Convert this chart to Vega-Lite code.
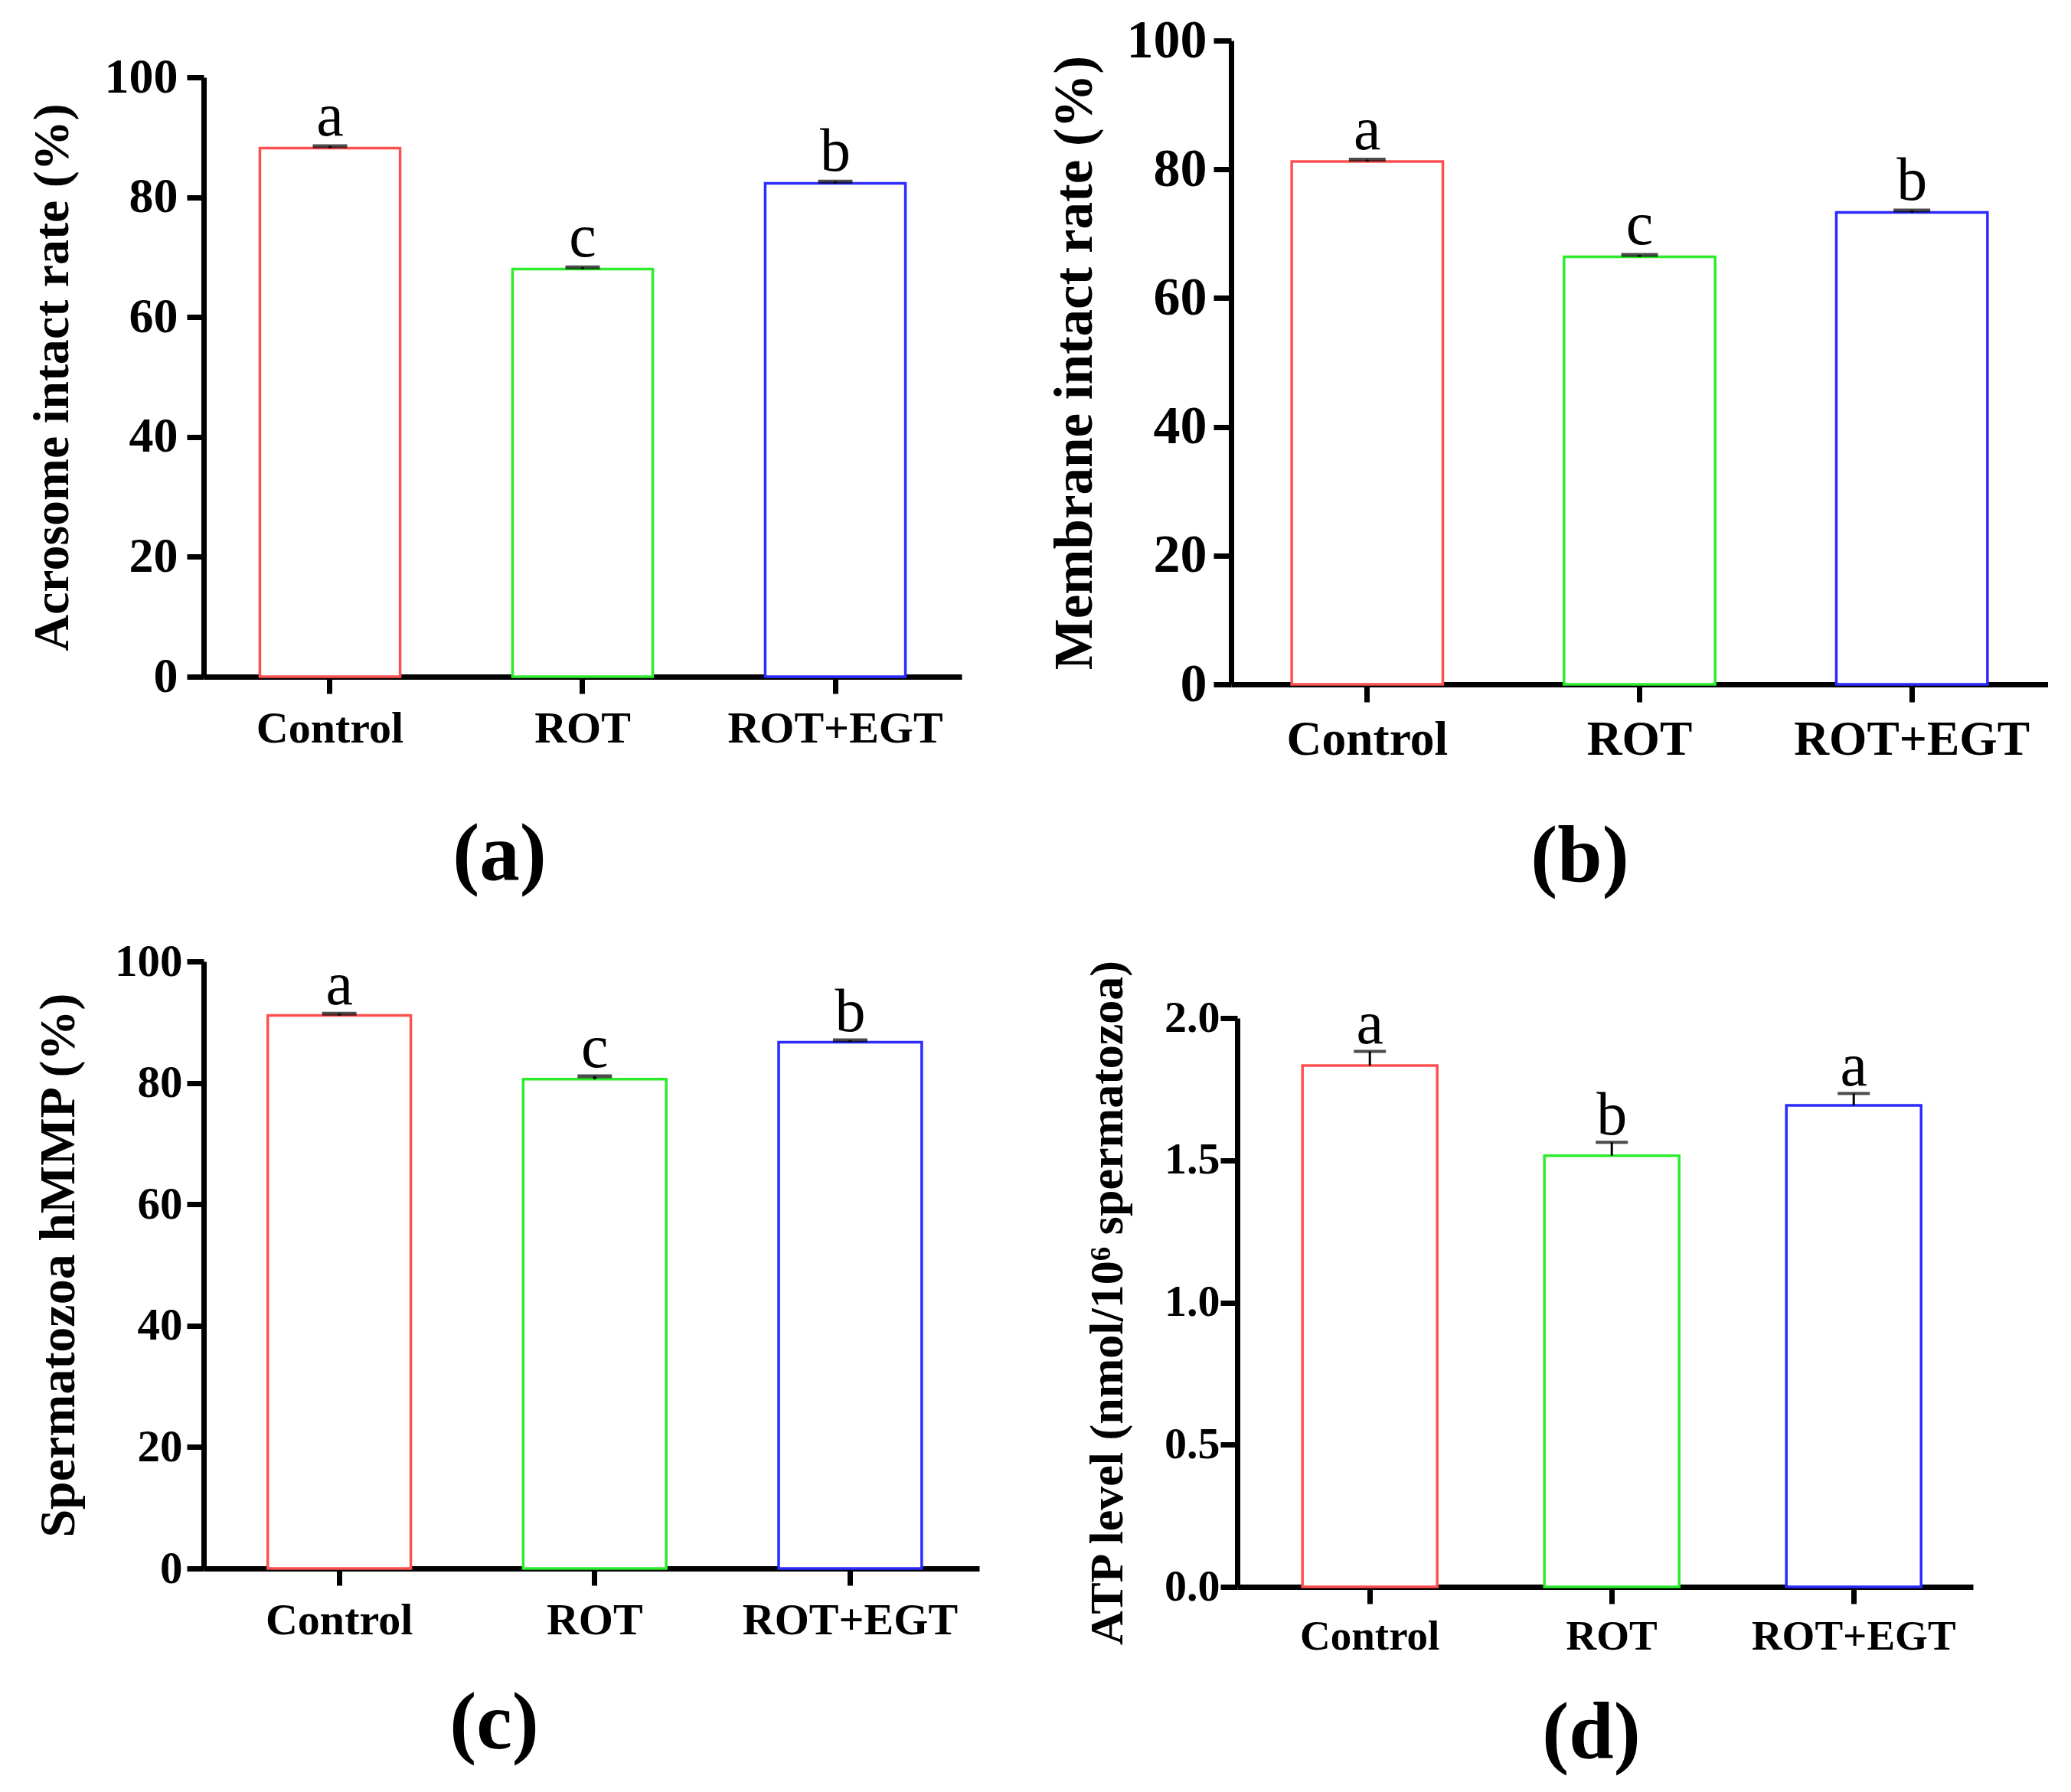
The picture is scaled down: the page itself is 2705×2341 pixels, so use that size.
{
  "$schema": "https://vega.github.io/schema/vega-lite/v6.json",
  "padding": {"left": 34, "top": 18, "right": 0, "bottom": 12},
  "background": "white",
  "datasets": {
    "bars": [
      {"panel": "a", "group": "Control", "mean": 88.2, "upper": 88.5, "letter": "a"},
      {"panel": "a", "group": "ROT", "mean": 68.0, "upper": 68.3, "letter": "c"},
      {"panel": "a", "group": "ROT+EGT", "mean": 82.3, "upper": 82.6, "letter": "b"},
      {"panel": "b", "group": "Control", "mean": 81.2, "upper": 81.5, "letter": "a"},
      {"panel": "b", "group": "ROT", "mean": 66.4, "upper": 66.7, "letter": "c"},
      {"panel": "b", "group": "ROT+EGT", "mean": 73.3, "upper": 73.6, "letter": "b"},
      {"panel": "c", "group": "Control", "mean": 91.1, "upper": 91.4, "letter": "a"},
      {"panel": "c", "group": "ROT", "mean": 80.6, "upper": 81.1, "letter": "c"},
      {"panel": "c", "group": "ROT+EGT", "mean": 86.7, "upper": 87.0, "letter": "b"},
      {"panel": "d", "group": "Control", "mean": 1.833, "upper": 1.883, "letter": "a"},
      {"panel": "d", "group": "ROT", "mean": 1.516, "upper": 1.563, "letter": "b"},
      {"panel": "d", "group": "ROT+EGT", "mean": 1.693, "upper": 1.735, "letter": "a"}
    ]
  },
  "data": {"name": "bars"},
  "spacing": 55,
  "vconcat": [
    {
      "bounds": "flush",
      "spacing": 352,
      "hconcat": [
        {
          "width": 990,
          "height": 831,
          "transform": [{"filter": "datum.panel == 'a'"}],
          "encoding": {
            "x": {
              "field": "group", "type": "nominal", "sort": null,
              "scale": {"paddingInner": 0.445, "paddingOuter": 0.2225},
              "axis": {"title": "(a)", "titleFontSize": 105, "titleX": 386, "titleY": 232, "titleBaseline": "middle", "labelFontSize": 58, "labelPadding": 17, "tickSize": 22}
            }
          },
          "layer": [
            {
              "mark": {"type": "bar", "fill": "white", "strokeWidth": 3.5},
              "encoding": {
                "y": {
                  "field": "mean", "type": "quantitative",
                  "scale": {"domain": [0, 100], "range": [831, 48]},
                  "axis": {"title": "Acrosome intact rate (%)", "values": [0, 20, 40, 60, 80, 100], "titleFontSize": 66, "titleX": -198, "titleY": 439.5, "titleBaseline": "middle", "labelFontSize": 64, "labelPadding": 12, "tickSize": 22}
                },
                "stroke": {"field": "group", "type": "nominal", "scale": {"domain": ["Control", "ROT", "ROT+EGT"], "range": ["#ff5050", "#2cec2c", "#2b2bff"]}, "legend": null}
              }
            },
            {"mark": {"type": "rule", "color": "black", "strokeWidth": 4}, "encoding": {"y": {"field": "mean", "type": "quantitative"}, "y2": {"field": "upper"}}},
            {"mark": {"type": "tick", "orient": "horizontal", "color": "black", "thickness": 5, "size": 45}, "encoding": {"y": {"field": "upper", "type": "quantitative"}}},
            {"mark": {"type": "text", "font": "Liberation Serif", "fontSize": 80, "baseline": "alphabetic", "dy": -14, "color": "black"}, "encoding": {"y": {"field": "upper", "type": "quantitative"}, "text": {"field": "letter"}}}
          ]
        },
        {
          "width": 1067,
          "height": 841,
          "transform": [{"filter": "datum.panel == 'b'"}],
          "encoding": {
            "x": {
              "field": "group", "type": "nominal", "sort": null,
              "scale": {"paddingInner": 0.445, "paddingOuter": 0.2225},
              "axis": {"title": "(b)", "titleFontSize": 105, "titleX": 455, "titleY": 225, "titleBaseline": "middle", "labelFontSize": 63.5, "labelPadding": 18, "tickSize": 23}
            }
          },
          "layer": [
            {
              "mark": {"type": "bar", "fill": "white", "strokeWidth": 3.5},
              "encoding": {
                "y": {
                  "field": "mean", "type": "quantitative",
                  "scale": {"domain": [0, 100]},
                  "axis": {"title": "Membrane intact rate (%)", "values": [0, 20, 40, 60, 80, 100], "titleFontSize": 71, "titleX": -204, "titleY": 420.5, "titleBaseline": "middle", "labelFontSize": 70, "labelPadding": 9, "tickSize": 23}
                },
                "stroke": {"field": "group", "type": "nominal", "scale": {"domain": ["Control", "ROT", "ROT+EGT"], "range": ["#ff5050", "#2cec2c", "#2b2bff"]}, "legend": null}
              }
            },
            {"mark": {"type": "rule", "color": "black", "strokeWidth": 4}, "encoding": {"y": {"field": "mean", "type": "quantitative"}, "y2": {"field": "upper"}}},
            {"mark": {"type": "tick", "orient": "horizontal", "color": "black", "thickness": 5, "size": 48}, "encoding": {"y": {"field": "upper", "type": "quantitative"}}},
            {"mark": {"type": "text", "font": "Liberation Serif", "fontSize": 80, "baseline": "alphabetic", "dy": -14, "color": "black"}, "encoding": {"y": {"field": "upper", "type": "quantitative"}, "text": {"field": "letter"}}}
          ]
        }
      ]
    },
    {
      "bounds": "flush",
      "spacing": 337,
      "hconcat": [
        {
          "width": 1013,
          "height": 793,
          "transform": [{"filter": "datum.panel == 'c'"}],
          "encoding": {
            "x": {
              "field": "group", "type": "nominal", "sort": null,
              "scale": {"paddingInner": 0.44, "paddingOuter": 0.238, "align": 0.527},
              "axis": {"title": "(c)", "titleFontSize": 105, "titleX": 379, "titleY": 202, "titleBaseline": "middle", "labelFontSize": 58, "labelPadding": 17, "tickSize": 22}
            }
          },
          "layer": [
            {
              "mark": {"type": "bar", "fill": "white", "strokeWidth": 3.5},
              "encoding": {
                "y": {
                  "field": "mean", "type": "quantitative",
                  "scale": {"domain": [0, 100]},
                  "axis": {"title": "Spermatozoa hMMP (%)", "values": [0, 20, 40, 60, 80, 100], "titleFontSize": 66, "titleX": -190, "titleY": 396.5, "titleBaseline": "middle", "labelFontSize": 59, "labelPadding": 6, "tickSize": 22}
                },
                "stroke": {"field": "group", "type": "nominal", "scale": {"domain": ["Control", "ROT", "ROT+EGT"], "range": ["#ff5050", "#2cec2c", "#2b2bff"]}, "legend": null}
              }
            },
            {"mark": {"type": "rule", "color": "black", "strokeWidth": 4}, "encoding": {"y": {"field": "mean", "type": "quantitative"}, "y2": {"field": "upper"}}},
            {"mark": {"type": "tick", "orient": "horizontal", "color": "black", "thickness": 5, "size": 45}, "encoding": {"y": {"field": "upper", "type": "quantitative"}}},
            {"mark": {"type": "text", "font": "Liberation Serif", "fontSize": 80, "baseline": "alphabetic", "dy": -12, "color": "black"}, "encoding": {"y": {"field": "upper", "type": "quantitative"}, "text": {"field": "letter"}}}
          ]
        },
        {
          "width": 961,
          "height": 817,
          "transform": [{"filter": "datum.panel == 'd'"}],
          "encoding": {
            "x": {
              "field": "group", "type": "nominal", "sort": null,
              "scale": {"paddingInner": 0.443, "paddingOuter": 0.242, "align": 0.557},
              "axis": {"title": "(d)", "titleFontSize": 105, "titleX": 462, "titleY": 191, "titleBaseline": "middle", "labelFontSize": 55, "labelPadding": 16, "tickSize": 22}
            }
          },
          "layer": [
            {
              "mark": {"type": "bar", "fill": "white", "strokeWidth": 3.5},
              "encoding": {
                "y": {
                  "field": "mean", "type": "quantitative",
                  "scale": {"domain": [0, 2], "range": [817, 74]},
                  "axis": {"title": "ATP level (nmol/10⁶ spermatozoa)", "values": [0, 0.5, 1, 1.5, 2], "format": ".1f", "titleFontSize": 62, "titleX": -170, "titleY": 445.5, "titleBaseline": "middle", "labelFontSize": 58, "labelPadding": 1, "tickSize": 22}
                },
                "stroke": {"field": "group", "type": "nominal", "scale": {"domain": ["Control", "ROT", "ROT+EGT"], "range": ["#ff5050", "#2cec2c", "#2b2bff"]}, "legend": null}
              }
            },
            {"mark": {"type": "rule", "color": "black", "strokeWidth": 3}, "encoding": {"y": {"field": "mean", "type": "quantitative"}, "y2": {"field": "upper"}}},
            {"mark": {"type": "tick", "orient": "horizontal", "color": "black", "thickness": 4, "size": 42}, "encoding": {"y": {"field": "upper", "type": "quantitative"}}},
            {"mark": {"type": "text", "font": "Liberation Serif", "fontSize": 80, "baseline": "alphabetic", "dy": -10, "color": "black"}, "encoding": {"y": {"field": "upper", "type": "quantitative"}, "text": {"field": "letter"}}}
          ]
        }
      ]
    }
  ],
  "config": {
    "view": {"stroke": null},
    "axis": {
      "grid": false,
      "domainColor": "black",
      "domainWidth": 7,
      "tickColor": "black",
      "tickWidth": 7,
      "bandPosition": 0.5,
      "labelFont": "Liberation Serif",
      "labelFontWeight": "bold",
      "labelColor": "black",
      "labelAngle": 0,
      "labelLimit": 0,
      "titleFont": "Liberation Serif",
      "titleFontWeight": "bold",
      "titleColor": "black"
    }
  }
}
